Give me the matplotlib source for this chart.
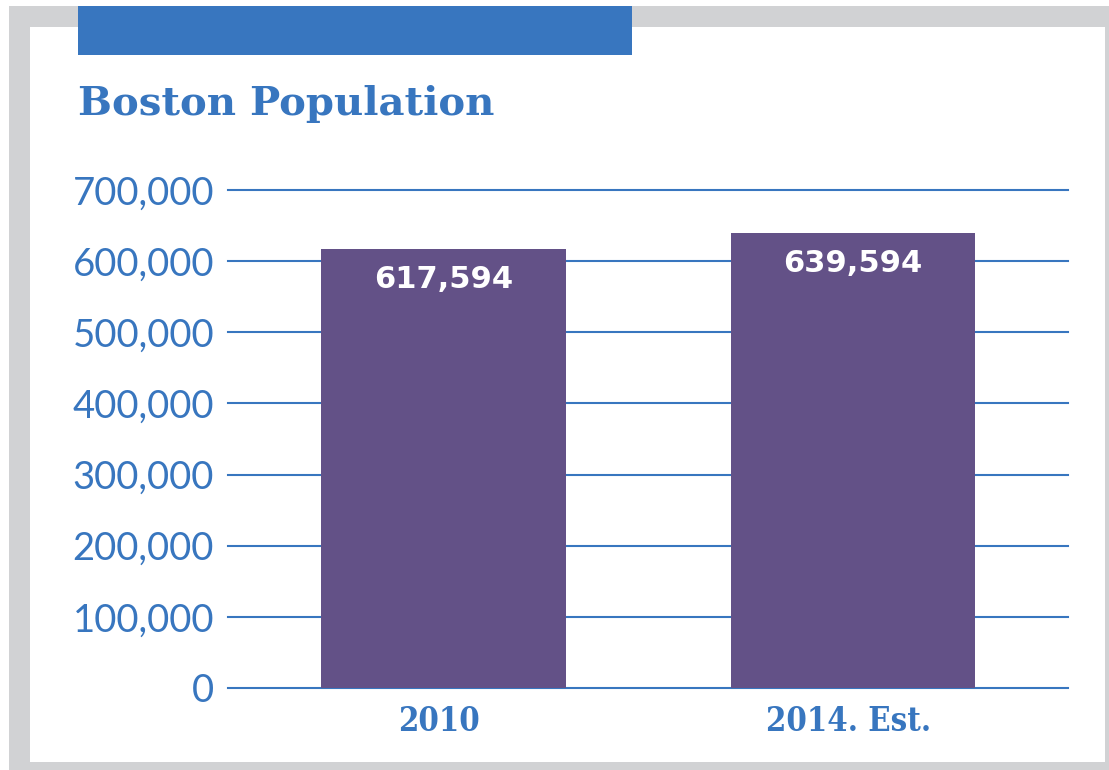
import matplotlib
matplotlib.use("Agg")
import matplotlib.pyplot as plt
from matplotlib.patches import Rectangle

# Data
categories = ["2010", "2014. Est."]
population = [617594, 639594]
value_labels = ["617,594", "639,594"]
y_ticks = [0, 100000, 200000, 300000, 400000, 500000, 600000, 700000]
y_tick_labels = ["0", "100,000", "200,000", "300,000", "400,000",
                 "500,000", "600,000", "700,000"]
title = "Boston Population"

BLUE = "#3876bf"
PURPLE = "#635187"
GRAY = "#d1d2d4"

W, H = 1109, 770
fig = plt.figure(figsize=(W / 100, H / 100), dpi=100, facecolor="white")


def px_rect(x0, y0, x1, y1, color, z):
    """Rectangle in pixel coordinates measured from the top-left corner."""
    fig.patches.append(Rectangle((x0 / W, 1 - y1 / H), (x1 - x0) / W, (y1 - y0) / H,
                                 transform=fig.transFigure, facecolor=color,
                                 edgecolor="none", zorder=z))


# Frame: gray border, white panel, blue header strip
px_rect(9, 6, W, H, GRAY, 0)
px_rect(30, 27, 1105, 762, "white", 1)
px_rect(78, 6, 632, 55, BLUE, 2)

fig.text(78 / W, 1 - 115 / H, title, color=BLUE, fontsize=29,
         fontfamily="DejaVu Serif", fontweight="bold",
         va="baseline", ha="left", zorder=3)

ax = fig.add_axes([228 / W, 82 / H, (1068 - 228) / W, (688 - 190) / H])
ax.set_zorder(5)
ax.patch.set_alpha(0)
ax.set_ylim(0, 700000)
ax.set_xlim(-0.526, 1.525)

x = list(range(len(categories)))
ax.bar(x, population, width=0.598, color=PURPLE, zorder=3)

for v in y_ticks:
    ax.axhline(v, color=BLUE, linewidth=1.5, zorder=1, clip_on=False)

for xi, v, lab in zip(x, population, value_labels):
    ax.annotate(lab, (xi, v), xytext=(0, -22), textcoords="offset points",
                ha="center", va="center", color="white", fontsize=22,
                fontfamily="DejaVu Sans", fontweight="bold", zorder=4)

# Category labels under each bar
for xi, cat in zip(x, categories):
    ax.annotate(cat, (xi, 0), xytext=(-3.5, -12.5), textcoords="offset points",
                ha="center", va="top", color=BLUE, fontsize=23.5,
                fontfamily="DejaVu Serif", fontweight="bold",
                fontstretch="condensed", annotation_clip=False)

ax.set_yticks(y_ticks)
ax.set_yticklabels(y_tick_labels, fontsize=27.5, color=BLUE,
                   fontfamily="Lato", fontweight="normal")
ax.set_xticks([])
ax.tick_params(axis="y", length=0, pad=10)
for s in ax.spines.values():
    s.set_visible(False)

fig.savefig("out.png", dpi=100, facecolor="white")
